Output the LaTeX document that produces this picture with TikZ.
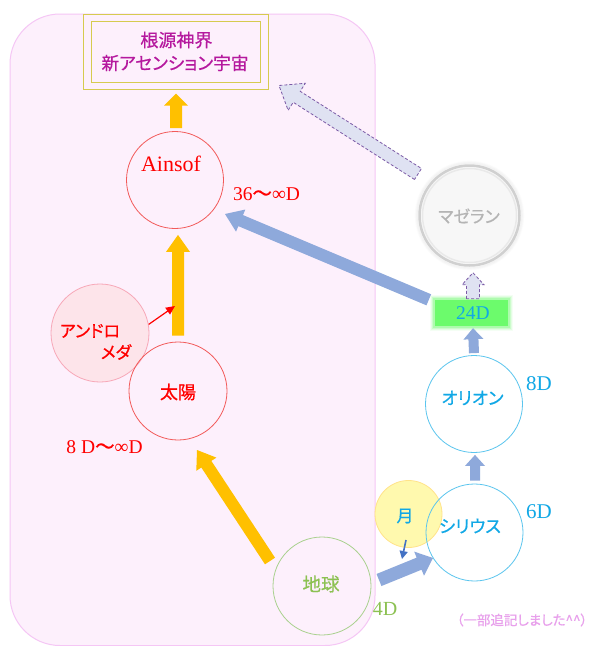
\documentclass[tikz,border=0pt]{standalone}
\usepackage{fontspec}
\setmainfont{Liberation Serif}
\newfontfamily\cjk[RawFeature=+palt,FakeBold=0.6]{Noto Sans CJK JP}
\usetikzlibrary{calc,arrows.meta}
\definecolor{regionfill}{HTML}{FDF0FC}
\definecolor{regionline}{HTML}{F5C6F5}
\definecolor{boxline}{HTML}{D6CB4F}
\definecolor{boxtext}{HTML}{B5199E}
\definecolor{orangeA}{HTML}{FFC000}
\definecolor{blueA}{HTML}{8EA9DB}
\definecolor{redline}{HTML}{F25A5A}
\definecolor{redtext}{HTML}{FF0000}
\definecolor{andfill}{HTML}{FDE4EA}
\definecolor{andline}{HTML}{F7A8B8}
\definecolor{earthline}{HTML}{A9D18E}
\definecolor{earthtext}{HTML}{8CC152}
\definecolor{moonfill}{HTML}{FFF9AE}
\definecolor{moonline}{HTML}{FFE38A}
\definecolor{skyline}{HTML}{5BC5EE}
\definecolor{skytext}{HTML}{11A8E6}
\definecolor{green24}{HTML}{6CFB6C}
\definecolor{magfill}{HTML}{F7F7F7}
\definecolor{magline}{HTML}{D0D0D0}
\definecolor{magtext}{HTML}{B4B4B4}
\definecolor{dashfill}{HTML}{DFE2F2}
\definecolor{dashline}{HTML}{7B5AA6}
\definecolor{moonarrow}{HTML}{4472C4}
\definecolor{notetext}{HTML}{E8A0EC}
\newcommand\blockarrow[6][]{%
  \path ($(#3)!#6!(#2)$) coordinate (ba-base);
  \path[#1] ($(#2)!#4!90:(#3)$) -- ($(ba-base)!#4!90:(#3)$) -- ($(ba-base)!#5!90:(#3)$) -- (#3)
    -- ($(ba-base)!#5!-90:(#3)$) -- ($(ba-base)!#4!-90:(#3)$) -- ($(#2)!#4!-90:(#3)$) -- cycle;
}
\begin{document}
\begin{tikzpicture}[x=1pt,y=-1pt,
  circ/.style={circle,draw,minimum size=#1,inner sep=0pt,line width=0.8pt},
  jp/.style={font=\cjk\fontsize{#1}{#1}\selectfont,inner sep=0pt},
  lat/.style={font=\fontsize{#1}{#1}\selectfont,inner sep=0pt},
  orangearrow/.style={fill=orangeA},
  bluearrow/.style={fill=blueA},
  dasharrow/.style={fill=dashfill,draw=dashline,line width=0.8pt,dash pattern=on 3pt off 2pt,line join=miter},
]
\useasboundingbox (0,0) rectangle (593,646);
\fill[white] (0,0) rectangle (593,646);
% region
\draw[regionline,fill=regionfill,line width=1pt,rounded corners=50pt] (10,14) rectangle (375,645.5);
% top box
\node[draw=boxline,line width=1pt,minimum width=185pt,minimum height=75pt] (boxout) at (175.5,51.5) {};
\node[draw=boxline,line width=1pt,minimum width=169pt,minimum height=61pt,inner sep=0pt] (box) at (175.5,51.5) {};
\node[jp=18,text=boxtext] (boxt1) at (176.5,40) {根源神界};
\node[jp=17.7,text=boxtext] (boxt2) at (175,63) {新アセンション宇宙};
% Ainsof
\node[circ=97pt,draw=redline] (ainsof) at (175,180) {};
\node[lat=22,text=redtext] (ainsoft) at (171,164) {Ainsof};
\node[lat=19.5,text=redtext] (ainsofd) at (266.5,194) {36{\cjk ～}∞D};
% Andromeda
\node[circ=98pt,draw=andline,fill=andfill] (andro) at (100,333) {};
\node[jp=17,text=redtext] (androt1) at (90,331) {アンドロ};
\node[jp=17,text=redtext] (androt2) at (116,352) {メダ};
% Sun
\node[circ=98pt,draw=redline] (sun) at (178,391) {};
\node[jp=18,text=redtext] (sunt) at (178,392) {太陽};
\node[lat=19.5,text=redtext] (sund) at (104.5,447) {8\hspace{5pt}D{\cjk ～}∞D};
% Earth
\node[circ=98pt,draw=earthline] (earth) at (322,586) {};
\node[jp=18.5,text=earthtext] (eartht) at (321,584) {地球};
\node[lat=20,text=earthtext] (earthd) at (385,609) {4D};
% Moon
\node[circ=67pt,draw=moonline,fill=moonfill] (moon) at (408.5,514) {};
\node[jp=17,text=skytext] (moont) at (405,516) {月};
% Sirius
\node[circ=97pt,draw=skyline] (sirius) at (474.5,532.5) {};
\node[jp=17.5,text=skytext] (siriust) at (470,526) {シリウス};
\node[lat=21,text=skytext] (siriusd) at (539,512) {6D};
% Orion
\node[circ=97pt,draw=skyline] (orion) at (474,404) {};
\node[jp=17.5,text=skytext] (oriont) at (472.5,398) {オリオン};
\node[lat=21,text=skytext] (oriond) at (539,384) {8D};
% 24D
\foreach \g/\o in {8/0.07,6/0.12,4/0.2,2/0.3}
  \fill[green24,opacity=\o] (471.5-37.5-\g/2,313-14-\g/2) rectangle (471.5+37.5+\g/2,313+14+\g/2);
\node[fill=green24,minimum width=73pt,minimum height=26pt,inner sep=0pt] (g24) at (471.5,313) {};
\node[lat=19.5,text=skytext] (g24t) at (473,313) {24D};
% Magellan
\foreach \r/\o in {54/0.08,53/0.14,52/0.22}
  \draw[magline,line width=1.2pt,opacity=\o] (469.5,215.5) circle (\r);
\node[circ=100pt,draw=magline,fill=magfill,line width=2.5pt] (mag) at (469.5,215.5) {};
\draw[magline,line width=1.5pt,opacity=0.35] (mag.center) circle (47);
\node[jp=17,text=magtext] (magt) at (469,216) {マゼラン};
% note
\node[jp=13.5,text=notetext] (note) at (522,620) {（一部追記しました\^{}\^{}）};
% arrows
\coordinate (a1s) at ($(ainsof.north)+(1,-3)$);
\coordinate (a1e) at ($(box.south)+(0.5,11)$);
\blockarrow[orangearrow]{a1s}{a1e}{6pt}{12pt}{12pt}
\coordinate (a2s) at ($(sun.north)+(0,-6)$);
\coordinate (a2e) at ($(sun.north |- ainsof.south)+(0,6)$);
\blockarrow[orangearrow]{a2s}{a2e}{6pt}{12pt}{17pt}
\coordinate (a3s) at ($(earth)+(-52,-25)$);
\coordinate (a3e) at ($(sun)+(19,59)$);
\blockarrow[orangearrow]{a3s}{a3e}{6pt}{12pt}{17pt}
\coordinate (b1s) at ($(g24.north west)+(-6,0)$);
\coordinate (b1e) at ($(ainsof)+(50,34)$);
\blockarrow[bluearrow]{b1s}{b1e}{6pt}{12pt}{17pt}
\coordinate (b2s) at ($(earth)+(57,-6)$);
\coordinate (b2e) at ($(sirius)+(-41.5,25.5)$);
\blockarrow[bluearrow]{b2s}{b2e}{6.5pt}{13pt}{15pt}
\coordinate (b3s) at ($(sirius.north)+(0.5,-3)$);
\coordinate (b3e) at ($(orion.south)+(1,2)$);
\blockarrow[bluearrow]{b3s}{b3e}{5pt}{10pt}{11pt}
\coordinate (b4s) at ($(orion.north)+(0,-2)$);
\coordinate (b4e) at ($(g24.south)+(1.5,2)$);
\blockarrow[bluearrow]{b4s}{b4e}{5pt}{10pt}{11pt}
\coordinate (d1s) at ($(g24.north)+(1.5,-1)$);
\coordinate (d1e) at ($(mag.south)+(3.5,6)$);
\blockarrow[dasharrow]{d1s}{d1e}{6.5pt}{11pt}{12pt}
\coordinate (d2s) at ($(mag)+(-51.5,-41.5)$);
\coordinate (d2e) at ($(boxout.south east)+(10.5,-4)$);
\blockarrow[dasharrow]{d2s}{d2e}{6.5pt}{16pt}{21pt}
\coordinate (r1e) at ($(andro)+(75,-27)$);
\draw[redtext,line width=1.2pt,-{Triangle[length=9pt,width=8pt]}] (andro.10) -- (r1e);
\coordinate (m1s) at ($(moon)+(-2.5,26)$);
\coordinate (m1e) at ($(moon)+(-6.5,45)$);
\draw[moonarrow,line width=1.6pt,-{Triangle[length=8pt,width=8pt]}] (m1s) -- (m1e);
\end{tikzpicture}
\end{document}
